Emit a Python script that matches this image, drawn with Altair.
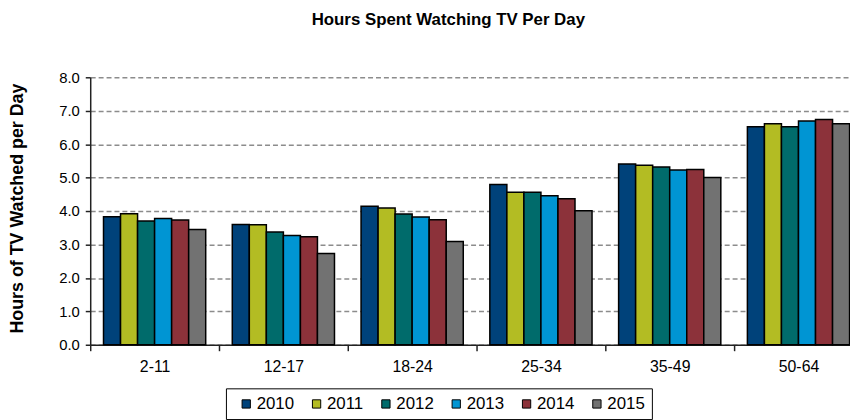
import altair as alt
import pandas as pd

groups = ["2-11", "12-17", "18-24", "25-34", "35-49", "50-64"]
years = ["2010", "2011", "2012", "2013", "2014", "2015"]
hours = {
    "2010": [3.83, 3.60, 4.14, 4.79, 5.41, 6.52],
    "2011": [3.92, 3.59, 4.09, 4.56, 5.37, 6.61],
    "2012": [3.70, 3.37, 3.91, 4.56, 5.32, 6.52],
    "2013": [3.78, 3.27, 3.82, 4.46, 5.23, 6.69],
    "2014": [3.73, 3.23, 3.74, 4.37, 5.24, 6.74],
    "2015": [3.45, 2.73, 3.09, 4.01, 5.00, 6.61],
}
colors = ["#00427A", "#B3BC23", "#006B6B", "#0095D3", "#8C323A", "#727272"]

rows = []
for y in years:
    for g, v in zip(groups, hours[y]):
        rows.append({"group": g, "year": y, "hours": v})
df = pd.DataFrame(rows)

FONT = "Liberation Sans"

chart = alt.Chart(df).mark_bar(stroke="black", strokeWidth=1.5).encode(
    x=alt.X("group:N", sort=groups, title=None,
            scale=alt.Scale(paddingInner=0, paddingOuter=0, range=[0, 780]),
            axis=alt.Axis(labelAngle=0, tickBand="extent", domainColor="#222",
                          domainWidth=1.5, tickColor="#222", tickWidth=1.5,
                          tickSize=6, labelPadding=8, labelFontSize=16,
                          labelColor="black", grid=False)),
    xOffset=alt.XOffset("year:N", sort=years,
                        scale=alt.Scale(paddingInner=0, paddingOuter=0.78)),
    y=alt.Y("hours:Q", title="Hours of TV Watched per Day",
            scale=alt.Scale(domain=[0, 8], nice=False),
            axis=alt.Axis(values=[0, 1, 2, 3, 4, 5, 6, 7, 8], format=".1f",
                          domainColor="#222", domainWidth=1.5, tickColor="#222",
                          tickWidth=1.5, tickSize=5, labelPadding=6,
                          labelFontSize=15, labelColor="black",
                          gridColor="#8c8c8c", gridDash=[5, 3], gridWidth=1.5,
                          titleFontSize=18, titleFontWeight="bold",
                          titleColor="black", titleX=-73, titleY=132,
                          titleBaseline="middle", titleAngle=270)),
    color=alt.Color("year:N", sort=years, title=None,
                    scale=alt.Scale(domain=years, range=colors),
                    legend=alt.Legend(orient="none", direction="horizontal",
                                      legendX=137, legendY=314, columns=6,
                                      symbolType="square", symbolSize=70,
                                      symbolStrokeColor="black", symbolStrokeWidth=1,
                                      labelFontSize=17, labelColor="black",
                                      labelOffset=2, columnPadding=9,
                                      strokeColor="black", padding=7,
                                      symbolOffset=5)),
).properties(
    width=767,
    height=270,
    title=alt.TitleParams("Hours Spent Watching TV Per Day", fontSize=17,
                          fontWeight="bold", color="black", offset=42, dx=-22,
                          font=FONT),
    autosize=alt.AutoSizeParams(type="none"),
    padding={"left": 83, "top": 68, "right": 0, "bottom": 74},
).configure(
    font=FONT,
).configure_view(stroke=None).configure_axis(
    labelFont=FONT, titleFont=FONT
).configure_legend(labelFont=FONT)

chart.save("out.html", embed_options={"renderer": "svg", "actions": False})
